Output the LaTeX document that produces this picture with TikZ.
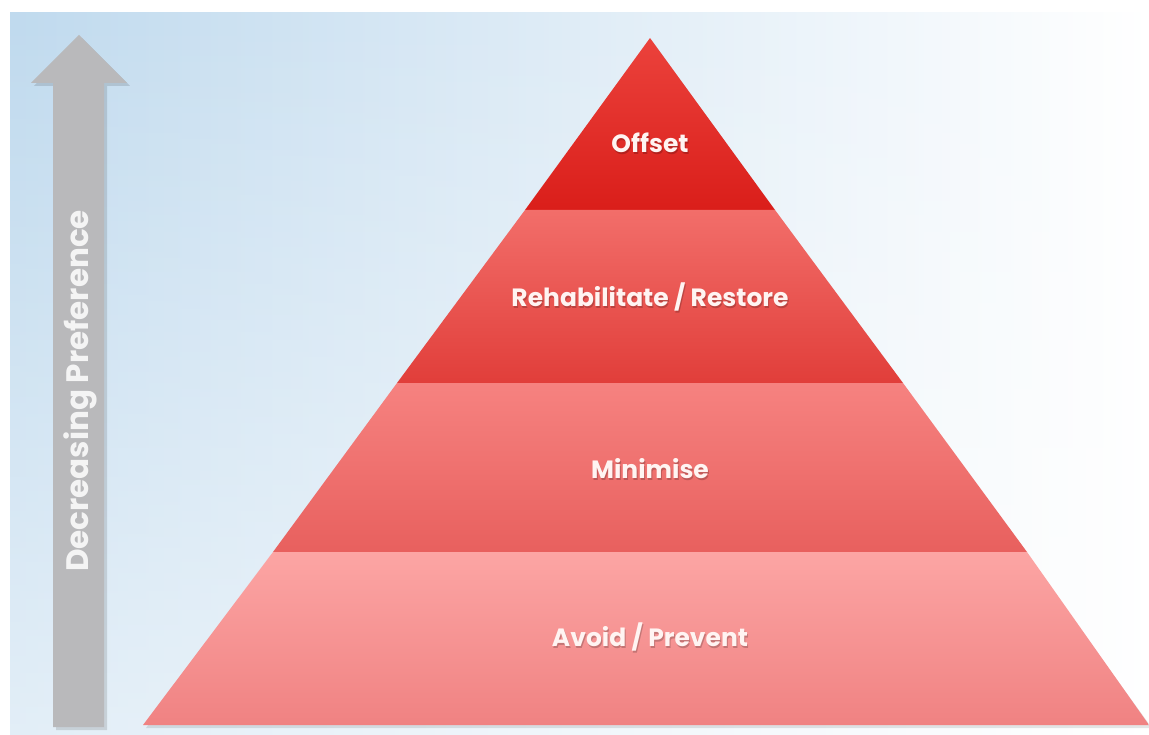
\documentclass[tikz,border=0pt]{standalone}
\usepackage{fontspec}
\setmainfont{Poppins}
\usetikzlibrary{shadings,fadings}
\definecolor{bgblue}{HTML}{C0DAEE}
\definecolor{arrowgray}{HTML}{B9B9BB}
\definecolor{labelwhite}{HTML}{FFF4F2}
\tikzset{
  layerlabel/.style={text=labelwhite, font=\bfseries\fontsize{25}{29}\selectfont, inner sep=0pt},
  labelshadow/.style={text=black, opacity=0.2, font=\bfseries\fontsize{25}{29}\selectfont, inner sep=0pt},
}
\begin{document}
\begin{tikzpicture}[x=1pt,y=-1pt]
\useasboundingbox (0,0) rectangle (1149,735);
\fill[white] (0,0) rectangle (1149,735);
% background wash: blue on the left, paler towards the bottom
\shade[left color=bgblue, right color=white] (10,13) rectangle (1149,735);
\fill[white, opacity=0.55, path fading=north] (10,13) rectangle (1149,735);

% arrow
\fill[black, opacity=0.12] (82,38) -- (130,86) -- (107,86) -- (107,730) -- (56,730) -- (56,86) -- (34,86) -- cycle;
\fill[arrowgray] (79,35) -- (127,83) -- (104,83) -- (104,727) -- (53,727) -- (53,83) -- (31,83) -- cycle;
\node[rotate=90, text=white, opacity=0.85, font=\bfseries\fontsize{31}{35}\selectfont, inner sep=0pt] (pref) at (80,391) {Decreasing Preference};

% pyramid shadow
\fill[black, opacity=0.10] (652,41) -- (1152,728) -- (146,728) -- cycle;

% layers
\shade[top color={rgb,255:red,235;green,66;blue,60}, bottom color={rgb,255:red,218;green,30;blue,26}]
  (650,38) -- (775,210) -- (525,210) -- cycle;
\shade[top color={rgb,255:red,242;green,110;blue,106}, bottom color={rgb,255:red,225;green,62;blue,58}]
  (525,210) -- (775,210) -- (903,383) -- (397,383) -- cycle;
\shade[top color={rgb,255:red,246;green,130;blue,128}, bottom color={rgb,255:red,232;green,96;blue,94}]
  (397,383) -- (903,383) -- (1027,552) -- (273,552) -- cycle;
\shade[top color={rgb,255:red,252;green,165;blue,164}, bottom color={rgb,255:red,240;green,130;blue,130}]
  (273,552) -- (1027,552) -- (1149,725) -- (143,725) -- cycle;

% labels
\node[labelshadow] at (651,145) {Offset};
\node[layerlabel] (offset) at (650,143) {Offset};
\node[labelshadow] at (651,299) {Rehabilitate / Restore};
\node[layerlabel] (rehab) at (650,297) {Rehabilitate / Restore};
\node[labelshadow] at (651,471) {Minimise};
\node[layerlabel] (minimise) at (650,469) {Minimise};
\node[labelshadow] at (651,639) {Avoid / Prevent};
\node[layerlabel] (avoid) at (650,637) {Avoid / Prevent};
\end{tikzpicture}
\end{document}
